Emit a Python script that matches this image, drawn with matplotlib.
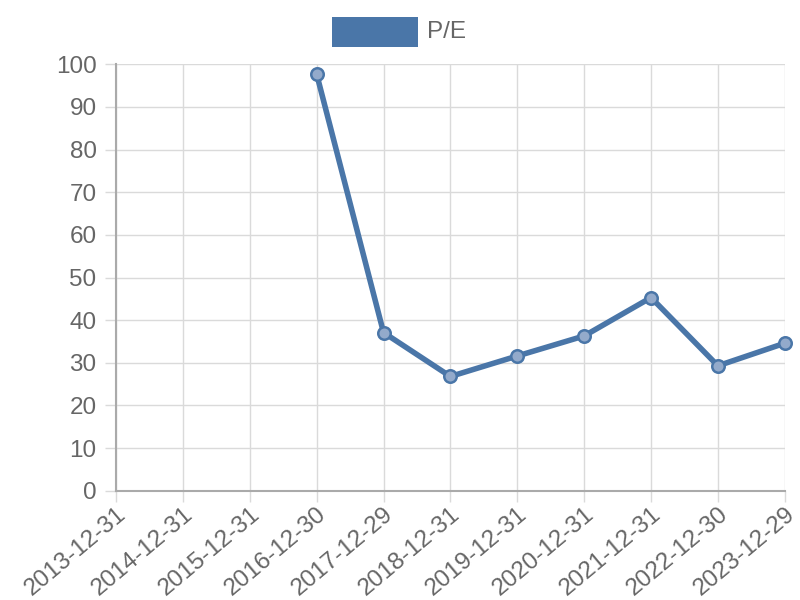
import matplotlib
matplotlib.use("Agg")
import matplotlib.pyplot as plt
import numpy as np
from matplotlib.patches import Rectangle

# data
dates = ['2013-12-31', '2014-12-31', '2015-12-31', '2016-12-30', '2017-12-29',
         '2018-12-31', '2019-12-31', '2020-12-31', '2021-12-31', '2022-12-30',
         '2023-12-29']
pe = [np.nan, np.nan, np.nan, 97.7, 37.1, 26.8, 31.6, 36.3, 45.3, 29.3, 34.6]

plt.rcParams['font.family'] = ['Liberation Sans', 'DejaVu Sans']
line_color = '#4a76a8'
text_color = '#666666'

fig = plt.figure(figsize=(8, 6), dpi=100)
ax = fig.add_axes([0.145, 0.182, 0.836, 0.711])

x = np.arange(len(dates))
ax.plot(x, pe, color=line_color, lw=4, zorder=3, solid_capstyle='round')
ax.plot(x, pe, ls='none', marker='o', ms=9, mfc='#93aacb', mec=line_color,
        mew=1.8, zorder=4, clip_on=False)

ax.set_xlim(0, len(dates) - 1)
ax.set_ylim(0, 100)
ax.set_yticks(np.arange(0, 101, 10))
ax.set_xticks(x)
ax.set_xticklabels(dates, rotation=40, ha='right', rotation_mode='anchor')

ax.grid(True, color='#dadada', lw=1)
ax.set_axisbelow(True)
for s in ['top', 'right']:
    ax.spines[s].set_visible(False)
for s in ['left', 'bottom']:
    ax.spines[s].set_color('#aaaaaa')
    ax.spines[s].set_linewidth(1.5)
ax.tick_params(axis='both', colors='#dadada', labelcolor=text_color,
               labelsize=17.5, length=8, width=1)
ax.tick_params(axis='x', pad=1)
ax.tick_params(axis='y', pad=6)

# legend at the top
fig.patches.append(Rectangle((332 / 800, 1 - 47 / 600), 86 / 800, 30 / 600,
                             transform=fig.transFigure, facecolor=line_color,
                             edgecolor='none'))
fig.text(427 / 800, 1 - 32 / 600, 'P/E', color=text_color, fontsize=17.5,
         va='center', ha='left')

fig.savefig('out.png', dpi=100)
